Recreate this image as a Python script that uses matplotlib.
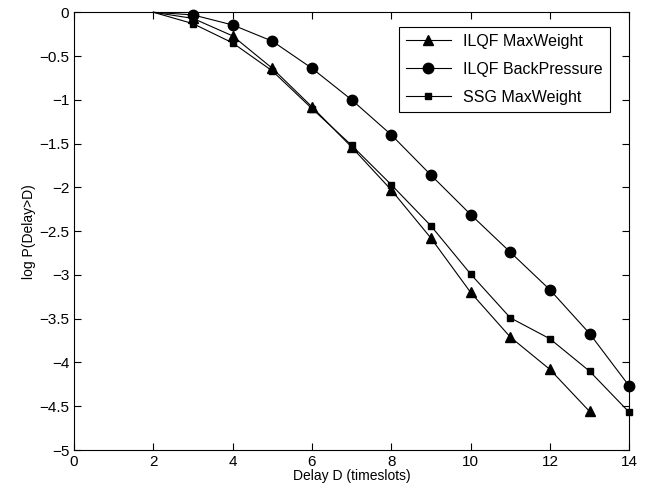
import matplotlib
matplotlib.use("Agg")
import matplotlib.pyplot as plt

plt.rcParams['font.family'] = ['Liberation Sans', 'DejaVu Sans']

delay = [2, 3, 4, 5, 6, 7, 8, 9, 10, 11, 12, 13, 14]

ilqf_mw_x = delay[:-1]
ilqf_mw = [0, -0.07, -0.27, -0.64, -1.08, -1.54, -2.03, -2.58, -3.20, -3.71, -4.08, -4.56]

ilqf_bp = [0, -0.03, -0.145, -0.33, -0.64, -1.00, -1.40, -1.86, -2.31, -2.74, -3.17, -3.67, -4.27]

ssg_mw = [0, -0.13, -0.35, -0.67, -1.10, -1.52, -1.97, -2.44, -2.99, -3.49, -3.73, -4.10, -4.57]

fig = plt.figure(figsize=(6.47, 4.91), dpi=100)
ax = fig.add_axes([0.1144, 0.0835, 0.8582, 0.8915])

# first point (D=2) has no marker in the original
ax.plot(ilqf_mw_x, ilqf_mw, 'k-^', lw=0.8, ms=7.5, markevery=slice(1, None),
        label="ILQF MaxWeight", clip_on=False)
ax.plot(delay, ilqf_bp, 'k-o', lw=0.8, ms=7.5, markevery=slice(1, None),
        label="ILQF BackPressure", clip_on=False)
ax.plot(delay, ssg_mw, 'k-s', lw=0.8, ms=4.5, markevery=slice(1, None),
        label="SSG MaxWeight", clip_on=False)

ax.set_xlim(0, 14)
ax.set_ylim(-5, 0)
ax.set_xticks(range(0, 15, 2))
ax.set_yticks([-5, -4.5, -4, -3.5, -3, -2.5, -2, -1.5, -1, -0.5, 0])
ax.set_yticklabels(["\u22125", "\u22124.5", "\u22124", "\u22123.5", "\u22123", "\u22122.5",
                    "\u22122", "\u22121.5", "\u22121", "\u22120.5", "0"])
ax.tick_params(direction='in', top=True, right=True, labelsize=11, length=5, width=0.8)
for s in ax.spines.values():
    s.set_linewidth(0.8)

ax.set_xlabel("Delay D (timeslots)", fontsize=10, labelpad=0)
ax.set_ylabel("log P(Delay>D)", fontsize=10, labelpad=2)

leg = ax.legend(loc='upper right', bbox_to_anchor=(0.98, 0.985), fontsize=11.5, fancybox=False,
                edgecolor='k', framealpha=1, handlelength=2.8, borderpad=0.45, labelspacing=0.8)
leg.get_frame().set_linewidth(0.8)

fig.savefig("out.png", dpi=100)
